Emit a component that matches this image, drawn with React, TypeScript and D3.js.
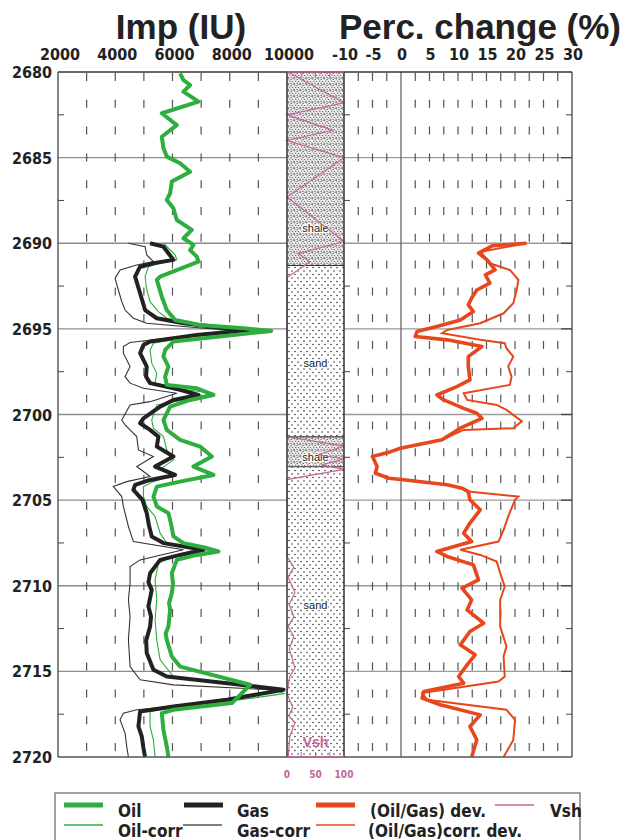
import * as d3 from 'd3'

type Pt = [number, number] // [depth, value]

const depthTicks = [2680, 2685, 2690, 2695, 2700, 2705, 2710, 2715, 2720]
const impTicks = [2000, 4000, 6000, 8000, 10000]
const pctTicks = [-10, -5, 0, 5, 10, 15, 20, 25, 30]
const vshTicks = [0, 50, 100]

const oil: Pt[] = [
  [2680.08, 6266], [2680.47, 6383], [2680.76, 6616], [2681.15, 6383], [2681.73, 6906], [2682.41, 5626],
  [2683.1, 6150], [2683.78, 5626], [2684.45, 5683], [2684.94, 5800], [2685.33, 6266], [2685.82, 6616],
  [2686.4, 5976], [2687.08, 5917], [2687.47, 5800], [2687.96, 6032], [2688.64, 6150], [2689.22, 6675],
  [2689.71, 6383], [2690.1, 6731], [2690.4, 6616], [2690.78, 6850], [2691.07, 6906], [2691.95, 5567],
  [2692.14, 5452], [2693.12, 5626], [2693.9, 5800], [2694.48, 6091], [2694.77, 6966], [2694.97, 8480],
  [2695.12, 9450], [2695.35, 8200], [2695.74, 6032], [2696.23, 5742], [2696.62, 5683], [2697.2, 5858],
  [2697.79, 5742], [2698.27, 5800], [2698.47, 6850], [2698.86, 7431], [2699.15, 6616], [2699.54, 5917],
  [2700.32, 5683], [2700.9, 5800], [2701.48, 6266], [2701.87, 6966], [2702.45, 7375], [2703.04, 6731],
  [2703.53, 7431], [2703.92, 6266], [2704.21, 5452], [2704.79, 5335], [2705.37, 5452], [2705.76, 5858],
  [2706.4, 5950], [2707.12, 6032], [2707.51, 6383], [2707.8, 7200], [2708.0, 7606], [2708.2, 6850],
  [2708.49, 6150], [2709.27, 5976], [2709.9, 6020], [2710.43, 5976], [2711.0, 5880], [2711.41, 5917],
  [2712.38, 5858], [2712.8, 5760], [2713.16, 5800], [2714.13, 5976], [2714.72, 6266], [2715.78, 8714],
  [2716.47, 8305], [2716.85, 8072], [2717.24, 6032], [2717.44, 5626], [2718.41, 5683], [2719.39, 5800],
  [2720, 5858],
]

const oilCorr: Pt[] = [
  [2690, 5683], [2690.68, 6091], [2690.97, 6150], [2691.17, 5567], [2691.37, 5158], [2691.95, 5042],
  [2692.73, 5100], [2693.41, 5217], [2693.99, 5508], [2694.38, 5800], [2694.77, 6850], [2695.1, 9300],
  [2695.5, 6500], [2695.84, 5333], [2696.23, 5217], [2697.0, 5275], [2697.59, 5450], [2698.17, 5392],
  [2698.56, 6500], [2698.76, 7431], [2699.15, 6383], [2699.44, 5450], [2700.32, 5275], [2700.8, 5333],
  [2701.29, 5683], [2702.07, 5800], [2702.65, 6032], [2703.13, 5626], [2703.53, 6032], [2703.92, 5333],
  [2704.21, 4985], [2704.79, 4985], [2705.37, 5100], [2705.96, 5392], [2706.93, 5567], [2707.51, 5800],
  [2707.9, 7431], [2708.29, 6032], [2708.68, 5508], [2709.66, 5392], [2710.82, 5450], [2711.99, 5392],
  [2713.16, 5450], [2714.32, 5567], [2715.3, 6032], [2716.0, 9500], [2716.3, 9900], [2716.66, 8365],
  [2717.05, 6266], [2717.34, 5217], [2718.21, 5217], [2719.0, 5333], [2720, 5392],
]

const gas: Pt[] = [
  [2690, 5217], [2690.2, 5683], [2690.58, 5858], [2690.97, 6032], [2691.17, 5333], [2691.37, 4868],
  [2691.95, 4693], [2692.92, 4868], [2693.9, 5042], [2694.38, 5450], [2694.67, 6383], [2694.95, 7800],
  [2695.07, 8650], [2695.35, 6850], [2695.74, 5217], [2695.94, 4985], [2696.42, 4868], [2697.2, 5100],
  [2697.79, 5077], [2698.17, 5217], [2698.56, 6266], [2698.86, 6906], [2699.15, 6032], [2699.54, 5567],
  [2700.22, 4985], [2700.51, 4868], [2700.9, 5217], [2701.29, 5508], [2701.87, 5452], [2702.45, 6032],
  [2703.04, 5392], [2703.53, 6091], [2703.82, 5217], [2704.11, 4693], [2704.4, 4634], [2704.98, 4950],
  [2705.76, 5100], [2706.5, 5180], [2707.12, 5275], [2707.51, 5683], [2707.9, 7081], [2708.2, 6266],
  [2708.49, 5567], [2709.27, 5217], [2709.8, 5160], [2710.24, 5275], [2711.21, 5158], [2711.8, 5250],
  [2712.38, 5217], [2713.2, 5080], [2713.93, 5100], [2714.91, 5333], [2715.3, 5800], [2716.07, 9879],
  [2716.66, 7900], [2717.05, 6032], [2717.34, 4868], [2718.21, 4810], [2718.8, 4927], [2719.48, 4985],
  [2720, 5042],
]

const gasCorr: Pt[] = [
  [2690, 4460], [2690.2, 5042], [2690.68, 5100], [2691.07, 5333], [2691.27, 4751], [2691.56, 4168],
  [2692.05, 3993], [2692.73, 4109], [2693.41, 4227], [2693.9, 4343], [2694.38, 4634], [2694.67, 5100],
  [2694.95, 7000], [2695.1, 8200], [2695.5, 6000], [2695.8, 4518], [2696.03, 4284], [2696.42, 4284],
  [2697.2, 4518], [2697.79, 4343], [2698.17, 4518], [2698.47, 4985], [2698.76, 6150], [2699.25, 5217],
  [2699.44, 4518], [2700.32, 4227], [2700.61, 4343], [2701.29, 4751], [2702.07, 4810], [2702.45, 5333],
  [2703.04, 4751], [2703.62, 5217], [2703.92, 4401], [2704.21, 3934], [2704.79, 4227], [2705.37, 4284],
  [2706.54, 4460], [2707.42, 4634], [2707.9, 6383], [2708.49, 4868], [2708.88, 4518], [2709.85, 4518],
  [2710.82, 4460], [2711.8, 4518], [2713.16, 4460], [2714.72, 4518], [2715.49, 4868], [2715.79, 6032],
  [2716.1, 9800], [2716.85, 7200], [2717.24, 4751], [2717.44, 4284], [2717.83, 4168], [2718.6, 4343],
  [2719.39, 4401], [2720, 4460],
]

const dev: Pt[] = [
  [2690, 22], [2690.15, 16], [2690.58, 13.6], [2690.97, 15.1], [2691.56, 16.5], [2691.85, 14.8],
  [2692.33, 15.6], [2692.73, 13.3], [2693.2, 12.4], [2693.6, 11.8], [2693.99, 12.7], [2694.48, 10.4],
  [2694.86, 6.3], [2695.16, 2.8], [2695.45, 2.5], [2695.64, 8.1], [2696.03, 14.2], [2696.62, 11.8],
  [2697.2, 11.8], [2697.98, 12.1], [2698.37, 9.8], [2698.86, 6.3], [2699.15, 7.5], [2699.64, 11],
  [2699.93, 13.3], [2700.22, 14.2], [2700.8, 10.4], [2701.48, 7.2], [2701.97, -0.1], [2702.17, -1.8],
  [2702.45, -5.0], [2703.04, -4.2], [2703.43, -4.5], [2703.72, -2.1], [2703.8, 0], [2704.1, 8.1],
  [2704.3, 10.7], [2704.5, 11.8], [2704.98, 12.1], [2705.57, 13.9], [2706.34, 12.1], [2706.93, 11],
  [2707.42, 12.4], [2708.0, 6.3], [2708.29, 8.1], [2708.78, 12.7], [2709.66, 13.6], [2710.14, 10.7],
  [2710.82, 12.4], [2711.41, 11.6], [2712.19, 14.5], [2712.67, 12.1], [2713.45, 10.4], [2714.03, 13],
  [2714.62, 11.6], [2715.3, 10.1], [2715.69, 11], [2716.17, 4.0], [2716.56, 3.7], [2716.95, 6.9],
  [2717.54, 13.9], [2718.22, 12.1], [2719.0, 13.3], [2720, 12.4],
]

const corrDev: Pt[] = [
  [2690, 22], [2690.5, 14], [2691.17, 15.6], [2691.56, 19.1], [2692.14, 20.6], [2692.73, 20.3],
  [2693.5, 19.7], [2694.09, 18], [2694.67, 13.9], [2695.06, 8.1], [2695.25, 7.2], [2695.64, 13.9],
  [2695.84, 18.2], [2696.13, 18.5], [2696.62, 19.7], [2697.2, 18.8], [2697.79, 19.4], [2698.27, 19.1],
  [2698.76, 11], [2699.15, 11.6], [2699.44, 16.8], [2699.73, 18.5], [2700.4, 21.2], [2700.8, 19.7],
  [2700.9, 11], [2701.48, 7.2], [2701.97, -0.1], [2702.17, -1.8], [2702.45, -5.0], [2703.04, -4.2],
  [2703.43, -4.5], [2703.72, -2.1], [2703.8, 0], [2704.1, 8.1], [2704.3, 10.7], [2704.5, 11.8],
  [2704.79, 20.6], [2704.98, 20], [2705.96, 18.8], [2706.74, 18.0], [2707.42, 17.1], [2707.9, 10.4],
  [2708.2, 13.9], [2708.59, 16.8], [2709.27, 17.4], [2710.05, 18.2], [2710.82, 17.4], [2712.38, 17.4],
  [2713.55, 18.5], [2714.13, 18.0], [2715.3, 18.2], [2715.59, 17.1], [2716.26, 3.7], [2716.66, 4.6],
  [2717.24, 18.5], [2717.83, 20], [2719.0, 19.7], [2720, 18.0],
]

const vsh: Pt[] = [
  [2680.0, 2], [2681.8, 100], [2682.5, 0], [2683.4, 80], [2684.0, 0], [2685.0, 100], [2687.3, 0],
  [2689.9, 100], [2690.6, 20], [2691.1, 40], [2692.0, 0], [2701.3, 0], [2701.85, 100], [2702.35, 55],
  [2702.6, 100], [2702.95, 60], [2703.2, 100], [2703.8, 0], [2708.3, 0], [2708.9, 12], [2709.5, 2],
  [2710.4, 14], [2711.1, 4], [2711.8, 12], [2712.4, 2], [2712.95, 12], [2713.7, 4], [2714.8, 14],
  [2715.3, 5], [2716.3, 0], [2717.1, 10], [2717.6, 3], [2718.0, 14], [2718.8, 5], [2720, 2],
]

const lithTop = [2680, 2691.3, 2701.3, 2703.05]
const lithBase = [2691.3, 2701.3, 2703.05, 2720]
const lithName = ['shale', 'sand', 'shale', 'sand']
const lithLabelDepth = [2689.1, 2697, 2702.5, 2711.1]

const GREEN = '#2eae3e'
const BLACK = '#222222'
const RED = '#e8461c'
const PINK = '#c2669c'
const FONT = '"Liberation Sans", Arial, sans-serif'
const NARROW = '"Liberation Sans Narrow", "DejaVu Sans Condensed", "Liberation Sans", Arial, sans-serif'

export default function App() {
  const width = 642
  const height = 840
  const y = d3.scaleLinear().domain([2680, 2720]).range([72, 757])
  const xImp = d3.scaleLinear().domain([2000, 10000]).range([58, 287])
  const xVsh = d3.scaleLinear().domain([0, 100]).range([287, 344])
  const xPct = d3.scaleLinear().domain([-10, 30]).range([344, 572])
  const [y0, y1] = y.range()

  const impLine = d3.line<Pt>().x((d) => xImp(d[1])).y((d) => y(d[0]))
  const pctLine = d3.line<Pt>().x((d) => xPct(d[1])).y((d) => y(d[0]))
  const vshLine = d3.line<Pt>().x((d) => xVsh(d[1])).y((d) => y(d[0]))

  const majorDepths = depthTicks.slice(1, -1)
  const minorDepths = d3.range(2682.5, 2720, 5)
  const impGrid = d3.range(3000, 10000, 1000)
  const pctGrid = d3.range(-7.5, 30, 2.5).filter((v) => v !== 0)

  const legend = [
    { label: 'Oil', color: GREEN, w: 5, x: 64, tx: 118, row: 0 },
    { label: 'Oil-corr', color: GREEN, w: 1.3, x: 64, tx: 118, row: 1 },
    { label: 'Gas', color: BLACK, w: 5, x: 184, tx: 237, row: 0 },
    { label: 'Gas-corr', color: '#555', w: 1.3, x: 183, tx: 237, row: 1 },
    { label: '(Oil/Gas) dev.', color: RED, w: 5, x: 316, tx: 370, row: 0 },
    { label: '(Oil/Gas)corr. dev.', color: RED, w: 1.6, x: 316, tx: 368, row: 1 },
    { label: 'Vsh', color: PINK, w: 1.3, x: 495, tx: 550, row: 0 },
  ]

  return (
    <svg width={width} height={height} viewBox={`0 0 ${width} ${height}`}
      style={{ position: 'absolute', left: 0, top: 0, background: '#fff' }}>
      <defs>
        <pattern id="sand" width="6" height="7" patternUnits="userSpaceOnUse">
          <rect width="6" height="7" fill="#fff" />
          <circle cx="1" cy="1.5" r="0.75" fill="#222" />
          <circle cx="4" cy="5" r="0.75" fill="#222" />
        </pattern>
        <pattern id="shale" width="6" height="6" patternUnits="userSpaceOnUse">
          <rect width="6" height="6" fill="#eeeeee" />
          <circle cx="0.7" cy="0.8" r="0.6" fill="#333" />
          <circle cx="3.2" cy="1.4" r="0.6" fill="#444" />
          <circle cx="5.1" cy="0.5" r="0.55" fill="#555" />
          <circle cx="1.8" cy="3.1" r="0.6" fill="#333" />
          <circle cx="4.4" cy="3.5" r="0.6" fill="#444" />
          <circle cx="0.6" cy="5.2" r="0.55" fill="#555" />
          <circle cx="3.0" cy="5.3" r="0.6" fill="#333" />
          <circle cx="5.4" cy="4.9" r="0.5" fill="#666" />
        </pattern>
      </defs>
      <rect width={width} height={height} fill="#fff" />

      {/* titles */}
      <text x={181} y={39} textAnchor="middle" fontFamily={FONT} fontWeight="bold" fontSize="35" fill="#222">Imp (IU)</text>
      <text x={480} y={39} textAnchor="middle" fontFamily={FONT} fontWeight="bold" fontSize="35" fill="#222">Perc. change (%)</text>

      {impTicks.map((t) => (
        <text key={t} x={xImp(t) + 2} y={60} textAnchor="middle" fontFamily={NARROW} fontWeight="bold" fontSize="16" fill="#222">{t}</text>
      ))}
      {pctTicks.map((t) => (
        <text key={t} x={xPct(t) + 1} y={60} textAnchor="middle" fontFamily={NARROW} fontWeight="bold" fontSize="16" fill="#222">{t}</text>
      ))}
      {depthTicks.map((t) => (
        <text key={t} x={52} y={y(t) + 6} textAnchor="end" fontFamily={NARROW} fontWeight="bold" fontSize="16" fill="#222">{t}</text>
      ))}

      {/* lithology column */}
      {lithTop.map((t, i) => (
        <g key={i}>
          <rect x={xVsh(0)} y={y(t)} width={xVsh(100) - xVsh(0)} height={y(lithBase[i]) - y(t)} fill={`url(#${lithName[i]})`} />
          <line x1={xVsh(0)} x2={xVsh(100)} y1={y(t)} y2={y(t)} stroke="#333" strokeWidth="1.2" />
          <text x={(xVsh(0) + xVsh(100)) / 2} y={y(lithLabelDepth[i]) + 4} textAnchor="middle" fontFamily={FONT} fontSize="11" fill="#222"
            stroke="#fff" strokeWidth="2.5" paintOrder="stroke">{lithName[i]}</text>
        </g>
      ))}
      <text x={(xVsh(0) + xVsh(100)) / 2} y={747} textAnchor="middle" fontFamily={FONT} fontWeight="bold" fontSize="14" fill={PINK}>Vsh</text>
      {[25, 50, 75].map((v) => (
        <g key={v}>
          <line x1={xVsh(v)} x2={xVsh(v)} y1={y0} y2={y0 + 5} stroke={PINK} strokeWidth="1" />
          <line x1={xVsh(v)} x2={xVsh(v)} y1={y1} y2={y1 - 5} stroke={PINK} strokeWidth="1" />
        </g>
      ))}
      <path d={vshLine(vsh) ?? ''} fill="none" stroke={PINK} strokeWidth="1.2" />
      {vshTicks.map((t) => (
        <text key={t} x={xVsh(t)} y={778} textAnchor="middle" fontFamily={NARROW} fontWeight="bold" fontSize="10" fill={PINK}>{t}</text>
      ))}

      {/* grid: horizontal */}
      {majorDepths.map((d) => (
        <g key={d}>
          <line x1={xImp(2000)} x2={xImp(10000)} y1={y(d)} y2={y(d)} stroke="#8c8c8c" strokeWidth="1.3" />
          <line x1={xPct(-10)} x2={xPct(30)} y1={y(d)} y2={y(d)} stroke="#9a9a9a" strokeWidth="1.3" />
          <line x1={xPct(30) - 11} x2={xPct(30)} y1={y(d)} y2={y(d)} stroke="#444" strokeWidth="1.3" />
        </g>
      ))}
      {minorDepths.map((d) => (
        <g key={d}>
          <line x1={xImp(2000)} x2={xImp(2000) + 6} y1={y(d)} y2={y(d)} stroke="#444" strokeWidth="1" />
          <line x1={xVsh(100)} x2={xVsh(100) + 6} y1={y(d)} y2={y(d)} stroke="#444" strokeWidth="1" />
          <line x1={xPct(30) - 6} x2={xPct(30)} y1={y(d)} y2={y(d)} stroke="#444" strokeWidth="1" />
        </g>
      ))}

      {/* grid: vertical dashes */}
      {impGrid.map((v) => (
        <line key={v} x1={xImp(v)} x2={xImp(v)} y1={y0 + 1} y2={y1} stroke="#555" strokeWidth="1.2" strokeDasharray="8 18.8" />
      ))}
      {pctGrid.map((v) => (
        <line key={v} x1={xPct(v)} x2={xPct(v)} y1={y0 + 1} y2={y1} stroke="#555" strokeWidth="1.2" strokeDasharray="8 18.8" />
      ))}
      <line x1={xPct(0)} x2={xPct(0)} y1={y0} y2={y1} stroke="#666" strokeWidth="1.3" />

      {/* curves */}
      <path d={impLine(gasCorr) ?? ''} fill="none" stroke="#333" strokeWidth="1.1" />
      <path d={impLine(oilCorr) ?? ''} fill="none" stroke={GREEN} strokeWidth="1.1" />
      <path d={impLine(gas) ?? ''} fill="none" stroke={BLACK} strokeWidth="4" strokeLinejoin="round" />
      <path d={impLine(oil) ?? ''} fill="none" stroke={GREEN} strokeWidth="4" strokeLinejoin="round" />
      <path d={pctLine(corrDev) ?? ''} fill="none" stroke={RED} strokeWidth="2" />
      <path d={pctLine(dev) ?? ''} fill="none" stroke={RED} strokeWidth="3.6" strokeLinejoin="round" />

      {/* frames */}
      <line x1={xImp(2000)} x2={xPct(30)} y1={y0} y2={y0} stroke="#333" strokeWidth="1.5" />
      <line x1={xImp(2000)} x2={xPct(30)} y1={y1} y2={y1} stroke="#555" strokeWidth="1.5" />
      <line x1={xImp(2000)} x2={xImp(2000)} y1={y0} y2={y1} stroke="#444" strokeWidth="1.3" />
      <line x1={xVsh(0)} x2={xVsh(0)} y1={y0} y2={y1} stroke="#333" strokeWidth="1.5" />
      <line x1={xVsh(100)} x2={xVsh(100)} y1={y0} y2={y1} stroke="#333" strokeWidth="1.5" />
      <line x1={xPct(30)} x2={xPct(30)} y1={y0} y2={y1} stroke="#444" strokeWidth="1.3" />
      <line x1={xVsh(0)} x2={xVsh(100)} y1={y0} y2={y0} stroke={PINK} strokeWidth="1.5" />
      <line x1={xVsh(0)} x2={xVsh(100)} y1={y1} y2={y1} stroke={PINK} strokeWidth="1.5" />

      {/* legend */}
      <rect x={55} y={793} width={525} height={60} fill="#fff" stroke="#666" strokeWidth="1.2" />
      {legend.map((item) => {
        const ly = item.row === 0 ? 805 : 825
        return (
          <g key={item.label}>
            <line x1={item.x} x2={item.x + 39} y1={ly} y2={ly} stroke={item.color} strokeWidth={item.w} />
            <text x={item.tx} y={ly + 12} fontFamily={NARROW} fontWeight="bold" fontSize="17" fill="#222">{item.label}</text>
          </g>
        )
      })}
    </svg>
  )
}
